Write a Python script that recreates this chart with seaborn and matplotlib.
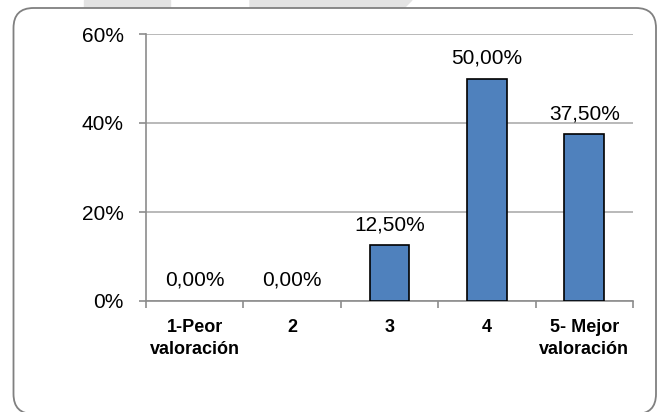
import matplotlib
matplotlib.use("Agg")
import matplotlib.pyplot as plt
import matplotlib.patches as mpatches
import matplotlib.ticker as mtick
from matplotlib.transforms import IdentityTransform
import pandas as pd
import seaborn as sns

categories = ["1-Peor\nvaloración", "2", "3", "4", "5- Mejor\nvaloración"]
shares = [0.0, 0.0, 0.125, 0.50, 0.375]
share_labels = ["0,00%", "0,00%", "12,50%", "50,00%", "37,50%"]
y_ticks = [0.0, 0.2, 0.4, 0.6]

BAR = "#4F81BD"
GRID = "#b3b3b3"
AXIS = "#8c8c8c"

sns.set_theme(style="white")
plt.rcParams["font.family"] = ["Liberation Sans", "DejaVu Sans"]

df = pd.DataFrame({"cat": categories, "share": shares})

fig = plt.figure(figsize=(6.6, 4.12), dpi=100)
fig.patch.set_facecolor("white")

# faint page shapes above the chart frame
for verts in ([(84, 412), (170, 412), (170, 400), (84, 400)],
              [(250, 412), (412, 412), (400, 400), (250, 400)]):
    fig.patches.append(mpatches.Polygon(verts, closed=True, color="#e3e3e3",
                                        transform=IdentityTransform(), zorder=-3))

frame = mpatches.FancyBboxPatch((13.5, -2), 642.5, 406,
                                boxstyle="round,pad=0,rounding_size=20",
                                facecolor="white", edgecolor="#808080", lw=1.3,
                                transform=IdentityTransform(), zorder=-2)
fig.patches.append(frame)

ax = fig.add_axes([146 / 660, 111 / 412, (633 - 146) / 660, (378 - 111) / 412])
ax.set_zorder(2)
ax.set_facecolor("none")
sns.barplot(data=df, x="cat", y="share", color=BAR, saturation=1,
            width=0.41, edgecolor="black", linewidth=1.2, ax=ax, zorder=3)

# empty categories show no outline
for bar, v in zip(ax.containers[0], shares):
    if v == 0:
        bar.set_linewidth(0)

ax.bar_label(ax.containers[0], labels=share_labels, padding=8,
             fontsize=15, color="black")

ax.set_ylim(0, 0.6)
ax.set_xlim(-0.5, len(categories) - 0.5)
ax.set_yticks(y_ticks)
ax.yaxis.set_major_formatter(mtick.PercentFormatter(1.0, decimals=0))
ax.yaxis.grid(True, color=GRID, lw=1.3, zorder=0)
ax.set_axisbelow(True)

for side in ("top", "right"):
    ax.spines[side].set_visible(False)
ax.spines["left"].set_color(AXIS)
ax.spines["bottom"].set_color(AXIS)
ax.spines["left"].set_linewidth(1.2)
ax.spines["bottom"].set_linewidth(1.2)

ax.tick_params(axis="y", length=5, width=1.2, color=AXIS, direction="out",
               pad=11, labelsize=15, labelcolor="black", left=True)
ax.set_xticks(range(len(categories)))
ax.set_xticklabels(categories, fontsize=13, fontweight="bold",
                   linespacing=1.4)
ax.set_xticks([i - 0.5 for i in range(len(categories) + 1)], minor=True)
ax.tick_params(axis="x", which="major", length=0, pad=13, labelcolor="black")
ax.tick_params(axis="x", which="minor", length=5, width=1.2, color=AXIS,
               direction="out", bottom=True)

ax.set_xlabel("")
ax.set_ylabel("")

fig.savefig("out.png", dpi=100, facecolor="white")
